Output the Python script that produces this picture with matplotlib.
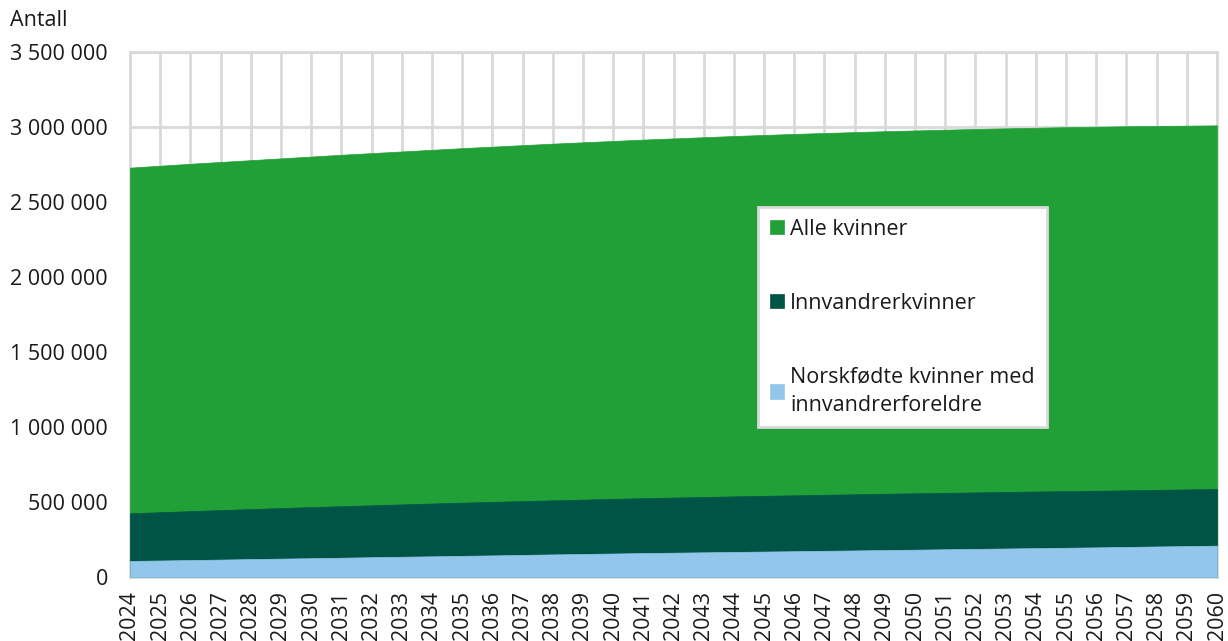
import matplotlib
matplotlib.use("Agg")
import matplotlib.pyplot as plt
from matplotlib.ticker import FuncFormatter

plt.rcParams['font.family'] = ['Open Sans', 'DejaVu Sans']

years = list(range(2024, 2061))

# tusen personer, lest av figuren
alle_kvinner = [2731, 2744, 2757, 2769, 2781, 2793, 2805, 2817, 2828, 2839,
                2850, 2861, 2871, 2881, 2891, 2900, 2909, 2918, 2926, 2934,
                2942, 2949, 2956, 2962, 2968, 2974, 2979, 2984, 2989, 2993,
                2997, 3001, 3004, 3007, 3009, 3011, 3013]
innvandrerkvinner = [427, 434, 441, 448, 455, 461.5, 468, 474, 480, 486,
                     492, 497.5, 503, 508, 513, 518, 523, 527.5, 531.5, 535.5,
                     539.5, 543, 546.5, 550, 553.5, 557, 560, 563, 566, 569,
                     572, 574.5, 577, 580, 583, 586, 589]
norskfodte = [109, 112, 115, 118, 121.5, 124.5, 127.5, 130.5, 134, 137,
              140, 143, 146, 149.5, 152.5, 155.5, 158.5, 161.5, 164, 166.5,
              169, 171.5, 174, 176.5, 179, 181.5, 184, 187, 189.5, 192,
              194.5, 197, 199.5, 202.5, 205.5, 208, 211]

labels = ["Alle kvinner", "Innvandrerkvinner", "Norskfødte kvinner med\ninnvandrerforeldre"]
colors = ["#21a038", "#005445", "#93c6eb"]
series = [alle_kvinner, innvandrerkvinner, norskfodte]

fs = 15.5

fig = plt.figure(figsize=(12.28, 6.41), dpi=100)
ax = fig.add_axes([130 / 1228, 1 - 577.3 / 641, (1217 - 130) / 1228, (577.3 - 52.3) / 641])

handles = []
for vals, col, lab in zip(series, colors, labels):
    h = ax.fill_between(years, [v * 1000 for v in vals], 0, color=col, linewidth=0.5,
                        edgecolor=col, label=lab, zorder=2)
    handles.append(h)

ax.set_xlim(2024, 2060)
ax.set_ylim(0, 3500000)
ax.set_xticks(years)
ax.set_xticklabels([str(y) for y in years], rotation=90, fontsize=fs)
ax.set_yticks(range(0, 3500001, 500000))
ax.yaxis.set_major_formatter(FuncFormatter(lambda v, p: f"{int(v):,}".replace(",", " ")))
ax.tick_params(axis='y', length=0, pad=16, labelsize=fs, colors='#1a1a1a')
ax.tick_params(axis='x', length=0, pad=10, colors='#1a1a1a')

ax.grid(True, color='#d9d9d9', linewidth=2)
ax.set_axisbelow(True)
for s in ax.spines.values():
    s.set_color('#d9d9d9')
    s.set_linewidth(2)
    s.set_zorder(1)

fig.text(10 / 1228, 1 - 20 / 641, "Antall", fontsize=fs, va='center', ha='left', color='#1a1a1a')

leg = ax.legend(handles=handles, loc='upper left', bbox_to_anchor=(758 / 1228, 1 - 207 / 641),
                bbox_transform=fig.transFigure, borderaxespad=0, fontsize=fs,
                handlelength=0.65, handleheight=0.65, handletextpad=0.3,
                labelspacing=2.45, borderpad=0.55, fancybox=False, framealpha=1,
                edgecolor='#d9d9d9')
leg.get_frame().set_linewidth(2)
for t in leg.get_texts():
    t.set_color('#1a1a1a')
    t.set_linespacing(1.45)

fig.savefig("out.png", dpi=100)
